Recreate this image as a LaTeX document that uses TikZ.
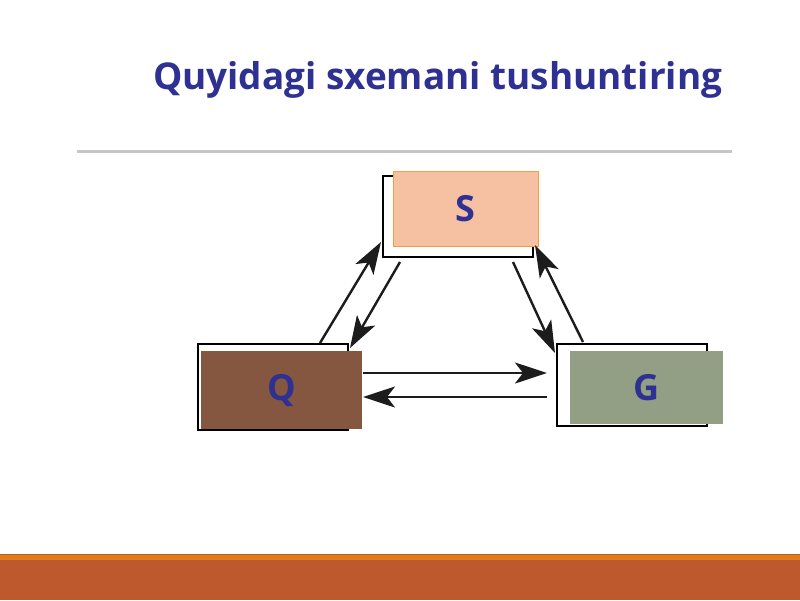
\documentclass[tikz,border=0pt]{standalone}
\usepackage{fontspec}
\setmainfont{Open Sans}
\usetikzlibrary{arrows.meta,calc}

\definecolor{titleblue}{HTML}{2E3192}
\definecolor{rulegray}{HTML}{C6C6C6}
\definecolor{sfill}{HTML}{F6C1A3}
\definecolor{sedge}{HTML}{EDA040}
\definecolor{qfill}{HTML}{855741}
\definecolor{gfill}{HTML}{929F85}
\definecolor{arrowblack}{HTML}{1C1C1C}
\definecolor{stripeorange}{HTML}{E07C1C}
\definecolor{bandbrown}{HTML}{BD592C}

\begin{document}
\begin{tikzpicture}[x=1pt, y=-1pt]
  \tikzset{backframe/.style={draw=black, line width=2pt, fill=white, inner sep=0pt, outer sep=0pt, minimum width=150pt}}
  \tikzset{card/.style={inner sep=0pt, outer sep=0pt, text=titleblue, font=\fontsize{36}{40}\selectfont\bfseries}}
  \tikzset{flow/.style={-{Stealth[length=32pt 0,width=21pt 0,inset=8pt 0]}, line width=2.4pt, draw=arrowblack, fill=arrowblack}}
  %
  \fill[white] (0,0) rectangle (800,600);
  \useasboundingbox (0,0) rectangle (800,600);
  %
  \node [card, anchor=base west, font=\fontsize{36.9}{40}\selectfont\bfseries] (title) at (153,89) {Quyidagi sxemani tushuntiring};
  \draw [line width=2.5pt, rulegray] (77,151.7) -- (732,151.7);
  %
  \node [backframe, minimum height=81pt] (Sf) at (458,216.5) {};
  \node [backframe, minimum height=86pt] (Qf) at (273,387) {};
  \node [backframe, minimum height=82pt] (Gf) at (632,385) {};
  %
  \node [card, fill=sfill, draw=sedge, line width=1pt, minimum width=145pt, minimum height=75pt] (S) at (465.5,209) {S};
  \node [card, fill=qfill, minimum width=161pt, minimum height=78pt] (Q) at (281.5,390) {Q};
  \node [card, fill=gfill, minimum width=153pt, minimum height=73pt] (G) at (646.5,387.5) {G};
  %
  \draw [flow] ($(Qf.north)+(47,-1)$) -- ($(Sf.south west)+(-2,-15)$);
  \draw [flow] ($(Sf.south west)+(17,5)$) -- ($(Qf.north east)+(2,4)$);
  \draw [flow] ($(Sf.south east)+(-20,5)$) -- ($(Gf.north west)+(-2,9)$);
  \draw [flow] ($(Gf.north west)+(26,-2)$) -- ($(Sf.south east)+(2,-12)$);
  \draw [flow] ($(Q.east)+(1,-17)$) -- ($(Gf.west)+(-10,-12)$);
  \draw [flow] ($(Gf.west)+(-10,12)$) -- ($(Q.east)+(1,7)$);
  %
  \fill [stripeorange] (0,554) rectangle (800,560);
  \draw [line width=1pt, stripeorange!80!black] (0,554.5) -- (800,554.5);
  \fill [bandbrown] (0,560) rectangle (800,600);
\end{tikzpicture}
\end{document}
